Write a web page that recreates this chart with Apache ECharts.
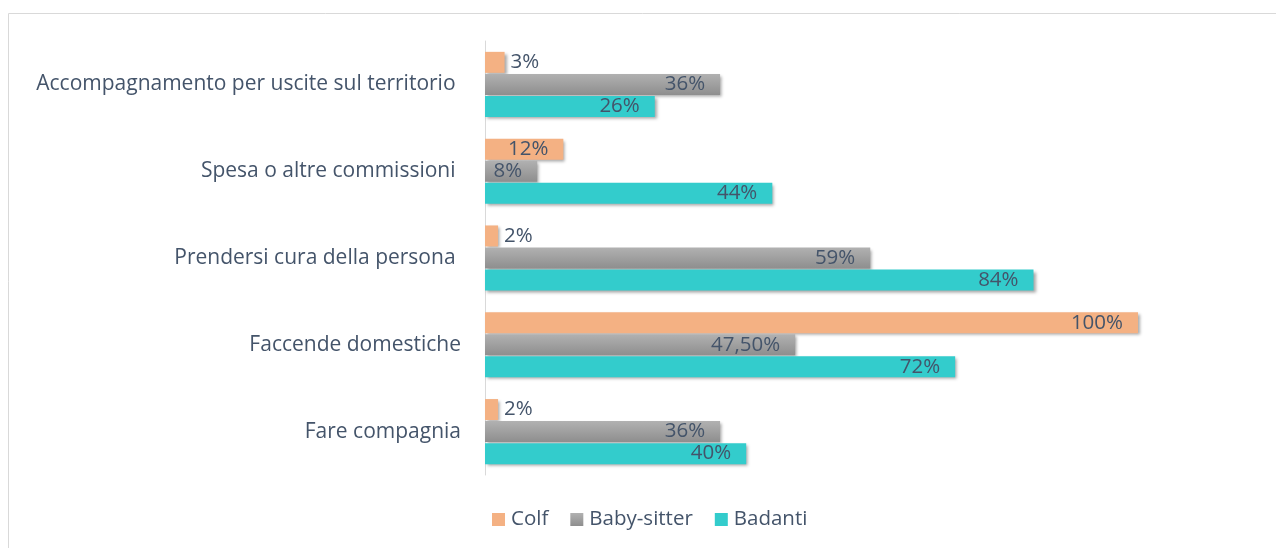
<!DOCTYPE html>
<html>
<head>
    <meta charset="utf-8">
    <title>Attività</title>
    <script src="https://cdn.jsdelivr.net/npm/echarts@6/dist/echarts.min.js"></script>
    <style>
        html, body { margin: 0; padding: 0; background: #fff; }
        #main { width: 1276px; height: 548px; }
    </style>
</head>
<body>
<div id="main"></div>
<script type="text/javascript">
    // categorie dall'alto verso il basso
    var categories = [
        'Accompagnamento per uscite sul territorio ',
        'Spesa o altre commissioni ',
        'Prendersi cura della persona ',
        'Faccende domestiche',
        'Fare compagnia'
    ];
    var colf = [3, 12, 2, 100, 2];
    var babySitter = [36, 8, 59, 47.5, 36];
    var badanti = [26, 44, 84, 72, 40];

    var textColor = '#44546A';
    var font = '"Open Sans", sans-serif';

    function fmt(v) {
        return (v % 1 ? v.toFixed(2).replace('.', ',') : v) + '%';
    }

    // valori piccoli: etichetta fuori dalla barra
    function items(list) {
        return list.map(function (v) {
            return v < 5 ? { value: v, label: { position: 'right', distance: 6 } } : v;
        });
    }

    var shadow = {
        shadowColor: 'rgba(0,0,0,0.35)',
        shadowBlur: 3,
        shadowOffsetX: 2,
        shadowOffsetY: 2
    };

    function serie(name, data, color) {
        return {
            name: name,
            type: 'bar',
            data: items(data),
            barWidth: 21,
            barGap: '5%',
            itemStyle: Object.assign({ color: color }, shadow),
            label: {
                show: true,
                position: 'insideRight',
                distance: 15,
                color: textColor,
                fontFamily: font,
                fontSize: 20.5,
                formatter: function (p) { return fmt(p.value); }
            }
        };
    }

    var option = {
        animation: false,
        graphic: [{
            type: 'polyline',
            shape: { points: [[8.5, 560], [8.5, 13.5], [1290, 13.5]] },
            style: { stroke: '#d9d9d9', fill: null, lineWidth: 1 }
        }],
        legend: {
            left: 487,
            top: 504,
            icon: 'rect',
            itemWidth: 13,
            itemHeight: 13,
            itemGap: 22,
            textStyle: { color: textColor, fontFamily: font, fontSize: 20.5, padding: [0, 0, 0, 1] },
            data: ['Colf', 'Baby-sitter', 'Badanti']
        },
        grid: { left: 485, right: 138, top: 41, bottom: 73 },
        xAxis: {
            type: 'value',
            min: 0,
            max: 100,
            show: false
        },
        yAxis: {
            type: 'category',
            inverse: true,
            data: categories,
            axisLine: { lineStyle: { color: '#d9d9d9', width: 1 } },
            axisTick: { show: false },
            axisLabel: {
                margin: 24,
                color: textColor,
                fontFamily: font,
                fontSize: 21
            }
        },
        series: [
            serie('Colf', colf, '#F4B183'),
            serie('Baby-sitter', babySitter, {
                type: 'linear', x: 0, y: 0, x2: 0, y2: 1,
                colorStops: [{ offset: 0, color: '#b1b1b1' }, { offset: 1, color: '#8e8e8e' }]
            }),
            serie('Badanti', badanti, '#33CCCC')
        ]
    };

    var myChart = echarts.init(document.getElementById('main'));
    myChart.setOption(option);
</script>
</body>
</html>
